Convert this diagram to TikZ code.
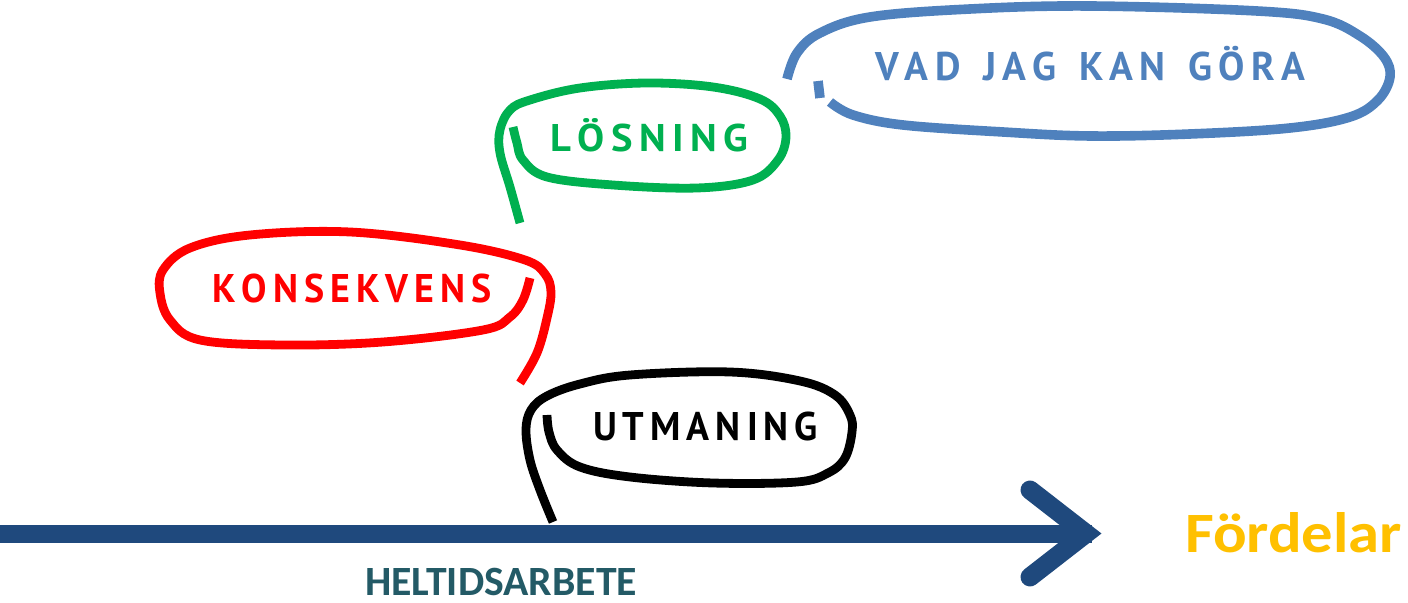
\documentclass[tikz,border=0pt]{standalone}
\usepackage{fontspec}
\usepackage{graphicx}
\setmainfont{PT Sans}
\newfontfamily\calib{Carlito}
\definecolor{arrowblue}{HTML}{1F497D}
\definecolor{tealtext}{HTML}{235A66}
\definecolor{gold}{HTML}{FFC000}
\definecolor{bred}{HTML}{FF0000}
\definecolor{bgreen}{HTML}{00B050}
\definecolor{bblue}{HTML}{4F81BD}
\def\spaced#1{\spacedx#1\relax}
\def\spacedx#1#2{#1\ifx\relax#2\else\kern.16em\expandafter\spacedx\expandafter#2\fi}
\newcommand{\fitcaps}[3]{\resizebox{#1}{#2}{\raisebox{0pt}[\fontcharht\font`H][0pt]{#3}}}
\tikzset{
  bubble/.style={line width=4.4pt, line cap=butt, line join=round},
  lbl/.style={anchor=base west, inner sep=0pt, outer sep=0pt, font=\bfseries},
}
\begin{document}
\begin{tikzpicture}[x=0.5pt, y=-0.5pt]
\useasboundingbox (0,0) rectangle (1408,603);
% main arrow
\coordinate (s0) at (0,534);
\coordinate (s1) at (1092,534);
\coordinate (h1) at (1030,490);
\coordinate (h2) at (1086,533.5);
\coordinate (h3) at (1030,577);
\draw[arrowblue, line width=9pt] (s0) -- (s1);
\draw[arrowblue, line width=9.5pt, line cap=round, line join=miter] (h1) -- (h2) -- (h3);
% black bubble
\draw[bubble, black] plot[smooth, tension=0.6] coordinates {(553,522) (540,490) (530,460) (526,430) (531,410) (547,396) (580,384) (630,375) (730,372) (800,381) (835,395) (850,415) (852,432) (845,458) (828,473) (797,482) (713,483) (630,477) (580,467) (557,450) (549,432) (547,415)};
% red bubble
\draw[bubble, bred] plot[smooth, tension=0.6] coordinates {(520,383) (537,353) (547,318) (551,292) (545,274) (525,260) (460,245) (350,232) (250,235) (190,248) (163,270) (160,293) (170,320) (200,340) (283,345) (383,342) (483,330) (510,317) (523,300) (530,278)};
% green bubble
\draw[bubble, bgreen] plot[smooth, tension=0.6] coordinates {(520,223) (510,187) (500,153) (500,130) (510,110) (530,100) (580,88) (647,83) (713,87) (760,99) (780,116) (786,137) (778,160) (753,180) (697,188) (613,185) (547,177) (523,160) (517,143) (513,127)};
% blue bubble
\draw[bubble, bblue, line width=4.8pt] plot[smooth, tension=0.6] coordinates {(787,79) (797,53) (820,33) (870,17) (970,9) (1090,6) (1257,11) (1323,19) (1360,36) (1384,57) (1390,77) (1378,100) (1350,117) (1290,128) (1190,134) (1090,136) (1003,132) (903,125) (853,115) (830,102)};
\draw[bubble, bblue, line width=4.8pt] (818,81) -- (820,98);
% labels
\node[lbl, text=black] (utm) at (593,441) {\fitcaps{112.5pt}{14pt}{\spaced{UTMANING}}};
\node[lbl, text=bred] (kons) at (212,303) {\fitcaps{140pt}{14pt}{\spaced{KONSEKVENS}}};
\node[lbl, text=bgreen] (los) at (550,152) {\fitcaps{99pt}{13.5pt}{\spaced{LÖSNING}}};
\node[lbl, text=bblue] (vad) at (875,81) {\fitcaps{215pt}{14pt}{\spaced{VAD~JAG~KAN~GÖRA}}};
\node[lbl, text=tealtext] (helt) at (365,596) {\calib\bfseries\fitcaps{136pt}{13.5pt}{HELTIDSARBETE}};
\node[lbl, text=gold] (ford) at (1185,553) {\calib\bfseries\resizebox{108.5pt}{20pt}{Fördelar}};
\end{tikzpicture}
\end{document}
